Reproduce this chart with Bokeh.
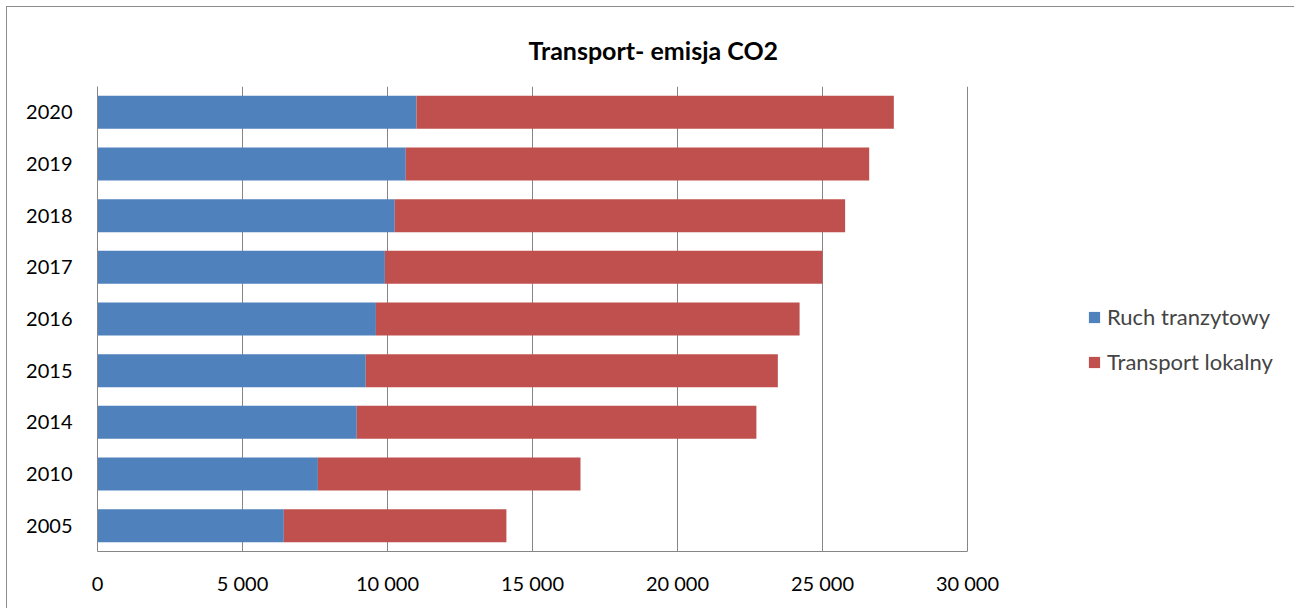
from bokeh.plotting import figure
from bokeh.models import FactorRange, Range1d, FixedTicker, Legend, LegendItem
from bokeh.embed import file_html
from bokeh.resources import INLINE

years = ["2005", "2010", "2014", "2015", "2016", "2017", "2018", "2019", "2020"]
ruch_tranzytowy = [6425, 7600, 8940, 9250, 9600, 9910, 10250, 10630, 11000]
transport_lokalny = [7675, 9055, 13780, 14210, 14610, 15090, 15530, 15980, 16460]
series_names = ["Ruch tranzytowy", "Transport lokalny"]
colors = ["#4F81BD", "#C0504D"]
x_ticks = [0, 5000, 10000, 15000, 20000, 25000, 30000]
x_tick_labels = ["0", "5 000", "10 000", "15 000", "20 000", "25 000", "30 000"]
title_text = "Transport- emisja CO2"

FONT = "Lato"
GRID = "#868686"
AXIS_MAX = 30000
PLOT_W = 870          # pixel width of the 0..30000 span
FRAME_W = 1198        # frame extends to the right edge to host the legend

p = figure(width=1288, height=602, output_backend="svg", toolbar_location=None,
           y_range=FactorRange(*years), x_range=Range1d(0, AXIS_MAX * FRAME_W / PLOT_W),
           min_border_left=90, min_border_right=0, min_border_top=79, min_border_bottom=58,
           title=title_text)
p.outline_line_color = None
p.styles = {"border-left": "1px solid #8c8c8c", "border-top": "1px solid #8c8c8c",
            "margin-left": "6px", "margin-top": "6px"}

p.title.align = "left"
p.title.offset = 431
p.title.standoff = 43
p.title.text_font = FONT
p.title.text_font_style = "bold"
p.title.text_font_size = "25px"
p.title.text_color = "black"

src = dict(years=years, ruch=ruch_tranzytowy, lok=transport_lokalny)
r = p.hbar_stack(["ruch", "lok"], y="years", height=0.64, color=colors, source=src,
                 line_color=None)

p.xaxis.ticker = FixedTicker(ticks=x_ticks)
p.xaxis.bounds = (0, AXIS_MAX)
p.xaxis.major_label_overrides = {t: l for t, l in zip(x_ticks, x_tick_labels)}
for ax in (p.xaxis[0], p.yaxis[0]):
    ax.axis_line_color = GRID
    ax.major_tick_line_color = None
    ax.minor_tick_line_color = None
    ax.major_label_text_font = FONT
    ax.major_label_text_font_size = "20px"
    ax.major_label_text_color = "black"
p.xaxis.major_label_standoff = 13
p.yaxis.major_label_standoff = 19
p.xgrid.grid_line_color = GRID
p.xgrid.ticker = FixedTicker(ticks=x_ticks)
p.ygrid.grid_line_color = None

legend = Legend(items=[LegendItem(label=series_names[i], renderers=[r[i]]) for i in range(2)],
                location=(990, 176), glyph_width=14, glyph_height=14, label_standoff=6,
                spacing=18, padding=0, margin=0, border_line_color=None,
                background_fill_alpha=0, label_text_font=FONT, label_text_font_size="22px")
p.add_layout(legend, "center")

open("out.html", "w").write(file_html(p, INLINE))
